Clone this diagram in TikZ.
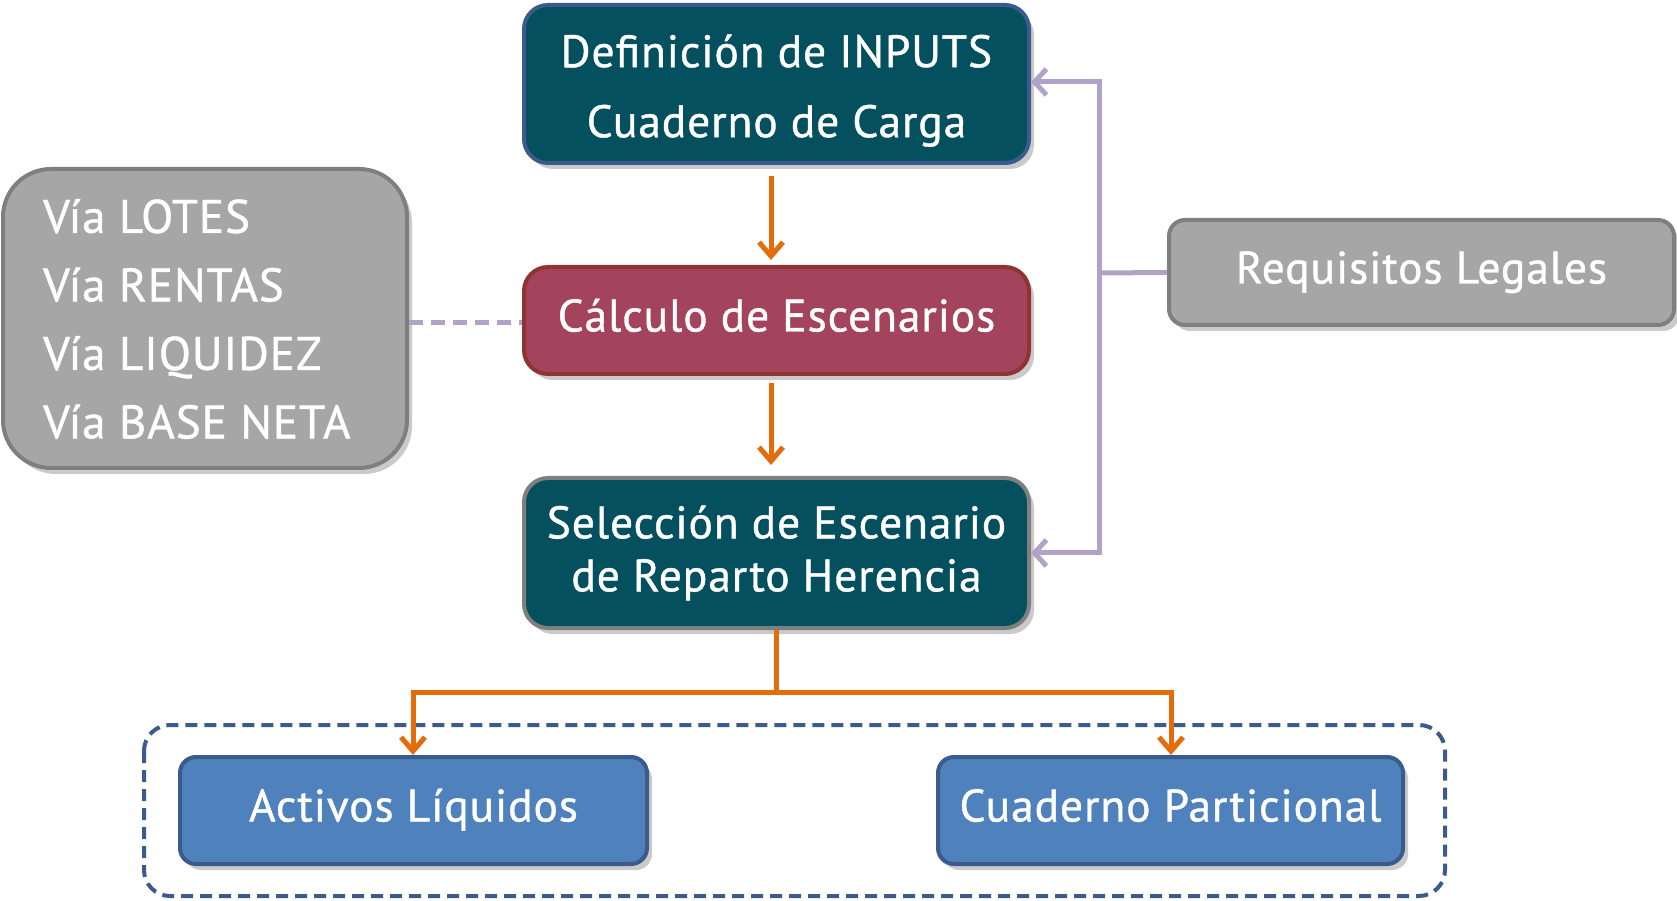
\documentclass[tikz,border=0pt]{standalone}
\usepackage{fontspec}
\setmainfont{PT Sans}[UprightFeatures={FakeBold=0.9}, LetterSpace=2]
\usetikzlibrary{arrows.meta,shadows,positioning}
\definecolor{teal1}{HTML}{05505F}
\definecolor{bordblue}{HTML}{3B5B8C}
\definecolor{redfill}{HTML}{A4435C}
\definecolor{redbord}{HTML}{8E3432}
\definecolor{grayfill}{HTML}{A6A6A6}
\definecolor{graybord}{HTML}{7F7F7F}
\definecolor{bluefill}{HTML}{4F81BD}
\definecolor{orangec}{HTML}{E46C0A}
\definecolor{purplec}{HTML}{B3A2C7}
\tikzset{
  boxbase/.style={rounded corners=24pt, line width=4pt, text=white, align=center,
     font=\fontsize{45.5}{56}\selectfont, inner sep=0pt,
     drop shadow={shadow xshift=5pt, shadow yshift=-6pt, opacity=0.35, fill=black!60}},
  oneline/.style={text height=33pt, text depth=11pt},
  orangearrow/.style={draw=orangec, line width=5pt, -{Straight Barb[length=14pt,width=24pt,line width=5pt]}},
  purplearrow/.style={draw=purplec, line width=5pt, -{Straight Barb[length=12pt,width=26pt,line width=5pt]}},
}
\begin{document}
\begin{tikzpicture}[x=1pt,y=1pt]
\useasboundingbox (0,0) rectangle (1677,900);
% dashed container
\draw[bordblue, line width=4pt, dash pattern=on 12pt off 7pt, rounded corners=26pt] (144,175) rectangle (1445,4);
% boxes
\node[boxbase, fill=teal1, draw=bordblue, minimum width=505pt, minimum height=158pt] (inp) at (776.5,816) {\rule{0pt}{46pt}Definición de INPUTS\\[14pt]Cuaderno de Carga};
\node[boxbase, oneline, fill=redfill, draw=redbord, minimum width=505pt, minimum height=107pt] (calc) at (776.5,579.5) {Cálculo de Escenarios};
\node[boxbase, fill=teal1, draw=graybord, minimum width=505pt, minimum height=150pt] (sel) at (776.5,347) {Selección de Escenario\\[-3pt]de Reparto Herencia};
\node[boxbase, fill=grayfill, draw=graybord, rounded corners=48pt, minimum width=404pt, minimum height=299pt] (via) at (205,581.5) {};
\node[text=white, font=\fontsize{47}{68.5}\selectfont, anchor=west, align=left, inner sep=0pt] (vialist) at (43,581) {Vía LOTES\\Vía RENTAS\\Vía LIQUIDEZ\\Vía BASE NETA};
\node[boxbase, oneline, fill=grayfill, draw=graybord, rounded corners=16pt, minimum width=505pt, minimum height=105pt] (req) at (1421.5,627.5) {Requisitos Legales};
\node[boxbase, oneline, fill=bluefill, draw=bordblue, rounded corners=16pt, minimum width=467pt, minimum height=107pt] (act) at (413.5,89.5) {Activos Líquidos};
\node[boxbase, oneline, fill=bluefill, draw=bordblue, rounded corners=16pt, minimum width=465pt, minimum height=107pt] (cua) at (1170.5,89.5) {Cuaderno Particional};
% orange arrows
\coordinate (a1s) at (771,724);
\coordinate (a1e) at (771,640);
\draw[orangearrow] (a1s) -- (a1e);
\coordinate (a2s) at (771,517);
\coordinate (a2e) at (771,435);
\draw[orangearrow] (a2s) -- (a2e);
\coordinate (split) at (776,208);
\draw[draw=orangec, line width=5pt] (sel.south -| split) -- (split);
\draw[orangearrow] (split) -- (413,208) -- (act.north -| 413,0);
\draw[orangearrow] (split) -- (1171,208) -- (cua.north -| 1171,0);
% purple
\coordinate (pv) at (1099,627);
\draw[draw=purplec, line width=5pt] (req.west) -- (pv);
\draw[purplearrow] (pv) -- (1099,818) -- (inp.east |- 0,818);
\draw[purplearrow] (pv) -- (1099,347) -- (sel.east |- 0,347);
\draw[draw=purplec, line width=5pt, dash pattern=on 14pt off 8pt] (via.east |- 0,577) -- (calc.west |- 0,577);
\end{tikzpicture}
\end{document}
